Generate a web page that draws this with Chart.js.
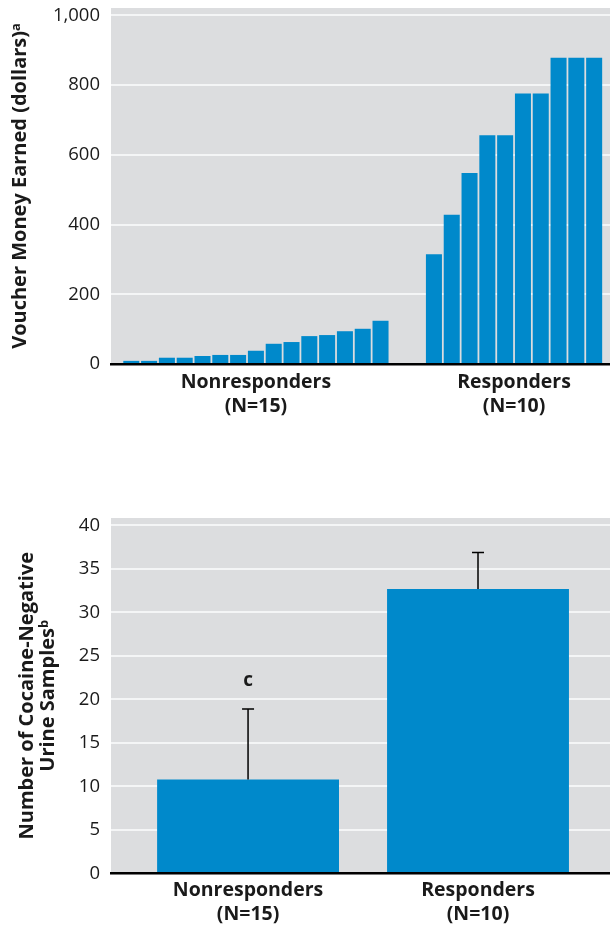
<!DOCTYPE html>
<html>
<head>
<meta charset="utf-8">
<script src="https://cdn.jsdelivr.net/npm/chart.js@4.4.1/dist/chart.umd.min.js"></script>
<style>
  html, body { margin: 0; padding: 0; background: #ffffff; }
  #wrap { position: relative; width: 610px; height: 926px; overflow: hidden; }
  canvas { position: absolute; left: 0; }
</style>
</head>
<body>
<div id="wrap">
  <canvas id="top" width="610" height="450" style="top:0px"></canvas>
  <canvas id="bottom" width="610" height="466" style="top:460px"></canvas>
</div>
<script>
// ---------- DATA ----------
const groupLabels = [['Nonresponders', '(N=15)'], ['Responders', '(N=10)']];
const nonresponderVouchers = [9, 9, 18, 18, 23, 26, 26, 38, 58, 63, 80, 83, 94, 101, 124];
const responderVouchers = [315, 428, 548, 656, 656, 776, 776, 878, 878, 878];
const voucherTicks = [0, 200, 400, 600, 800, 1000];
const voucherTitle = 'Voucher Money Earned (dollars)\u1D43';

const meanNegative = [10.8, 32.7];
const sdNegative = [8.1, 4.2];
const sigMarks = ['c', ''];
const negativeTicks = [0, 5, 10, 15, 20, 25, 30, 35, 40];
const negativeTitle = ['Number of Cocaine-Negative', 'Urine Samples\u1D47'];

// ---------- STYLE ----------
const BLUE = '#0089CB';
const PLOT_BG = '#DCDDDF';
const GRID = '#F4F5F6';
const TEXT = '#1A1A1A';
const FONT = '"Open Sans", "Noto Sans", sans-serif';
const GAP_SLOTS = 2;

const plotBg = {
  id: 'plotBg',
  beforeDraw(chart) {
    const { ctx, chartArea: a } = chart;
    ctx.save();
    ctx.fillStyle = PLOT_BG;
    ctx.fillRect(a.left, a.top, a.right - a.left, a.bottom - a.top);
    ctx.restore();
  }
};

function zeroPad(s) { s.paddingLeft = 0; s.paddingRight = 0; s.paddingTop = 0; s.paddingBottom = 0; }

// ---------- TOP CHART ----------
const respStart = nonresponderVouchers.length + GAP_SLOTS;
const topData = nonresponderVouchers.map((v, i) => ({ x: i, y: v }))
  .concat(responderVouchers.map((v, i) => ({ x: respStart + i, y: v })));
const groupCenters = [
  (nonresponderVouchers.length - 1) / 2,
  respStart + (responderVouchers.length - 1) / 2
];

new Chart(document.getElementById('top'), {
  type: 'bar',
  data: { datasets: [{ data: topData, backgroundColor: BLUE, borderWidth: 0,
    barPercentage: 0.9, categoryPercentage: 1 }] },
  options: {
    responsive: false, animation: false,
    layout: { padding: { top: 8, right: 0, left: 0, bottom: 0 } },
    plugins: { legend: { display: false }, tooltip: { enabled: false } },
    scales: {
      x: {
        type: 'linear', min: -1.14, max: 26.89, offset: false, bounds: 'data',
        grid: { display: false, drawTicks: false, tickLength: 0 },
        border: { display: true, color: '#000', width: 2.5, z: 1 },
        afterBuildTicks: (s) => { s.ticks = groupCenters.map(v => ({ value: v })); },
        afterFit: (s) => { s.height = 450 - 364; zeroPad(s); },
        ticks: {
          autoSkip: false, maxRotation: 0, padding: 6, color: TEXT,
          font: { family: FONT, size: 19.5, weight: 'bold', lineHeight: '24px' },
          callback: (v, i) => groupLabels[i]
        }
      },
      y: {
        min: 0, max: 1021, bounds: 'data',
        grid: { color: GRID, lineWidth: 2, drawTicks: false },
        border: { display: false },
        afterBuildTicks: (s) => { s.ticks = voucherTicks.map(v => ({ value: v })); },
        afterFit: (s) => { s.width = 111; zeroPad(s); },
        ticks: {
          padding: 11, color: TEXT,
          font: { family: FONT, size: 18.5 },
          callback: (v) => Number(v).toLocaleString('en-US')
        },
        title: {
          display: true, text: voucherTitle, color: TEXT,
          padding: { top: 8, bottom: 0 },
          font: { family: FONT, size: 20, weight: 'bold' }
        }
      }
    }
  },
  plugins: [plotBg]
});

// ---------- BOTTOM CHART ----------
const errorBars = {
  id: 'errorBars',
  afterDatasetsDraw(chart) {
    const { ctx, scales: { x, y } } = chart;
    ctx.save();
    ctx.strokeStyle = '#000';
    ctx.lineWidth = 1.5;
    meanNegative.forEach((m, i) => {
      const px = x.getPixelForValue(i);
      const y0 = y.getPixelForValue(m);
      const y1 = y.getPixelForValue(m + sdNegative[i]);
      ctx.beginPath();
      ctx.moveTo(px, y0); ctx.lineTo(px, y1);
      ctx.moveTo(px - 6, y1); ctx.lineTo(px + 6, y1);
      ctx.stroke();
      if (sigMarks[i]) {
        ctx.fillStyle = TEXT;
        ctx.font = 'bold 19px ' + FONT;
        ctx.textAlign = 'center';
        ctx.textBaseline = 'middle';
        ctx.fillText(sigMarks[i], px, y1 - 28);
      }
    });
    ctx.restore();
  }
};

new Chart(document.getElementById('bottom'), {
  type: 'bar',
  data: { datasets: [{ data: meanNegative.map((v, i) => ({ x: i, y: v })),
    backgroundColor: BLUE, borderWidth: 0, barPercentage: 0.791, categoryPercentage: 1 }] },
  options: {
    responsive: false, animation: false,
    layout: { padding: { top: 58, right: 0, left: 0, bottom: 0 } },
    plugins: { legend: { display: false }, tooltip: { enabled: false } },
    scales: {
      x: {
        type: 'linear', min: -0.596, max: 1.574, offset: false, bounds: 'data',
        grid: { display: false, drawTicks: false, tickLength: 0 },
        border: { display: true, color: '#000', width: 2.5, z: 1 },
        afterBuildTicks: (s) => { s.ticks = meanNegative.map((v, i) => ({ value: i })); },
        afterFit: (s) => { s.height = 466 - 413.5; zeroPad(s); },
        ticks: {
          autoSkip: false, maxRotation: 0, padding: 5, color: TEXT,
          font: { family: FONT, size: 19.5, weight: 'bold', lineHeight: '24px' },
          callback: (v, i) => groupLabels[i]
        }
      },
      y: {
        min: 0, max: 40.86, bounds: 'data',
        grid: { color: GRID, lineWidth: 2, drawTicks: false },
        border: { display: false },
        afterBuildTicks: (s) => { s.ticks = negativeTicks.map(v => ({ value: v })); },
        afterFit: (s) => { s.width = 111; zeroPad(s); },
        ticks: {
          padding: 11, color: TEXT,
          font: { family: FONT, size: 18.5 }
        },
        title: {
          display: true, text: negativeTitle, color: TEXT,
          padding: { top: 17, bottom: 0 },
          font: { family: FONT, size: 20, weight: 'bold', lineHeight: '21px' }
        }
      }
    }
  },
  plugins: [plotBg, errorBars]
});
</script>
</body>
</html>
